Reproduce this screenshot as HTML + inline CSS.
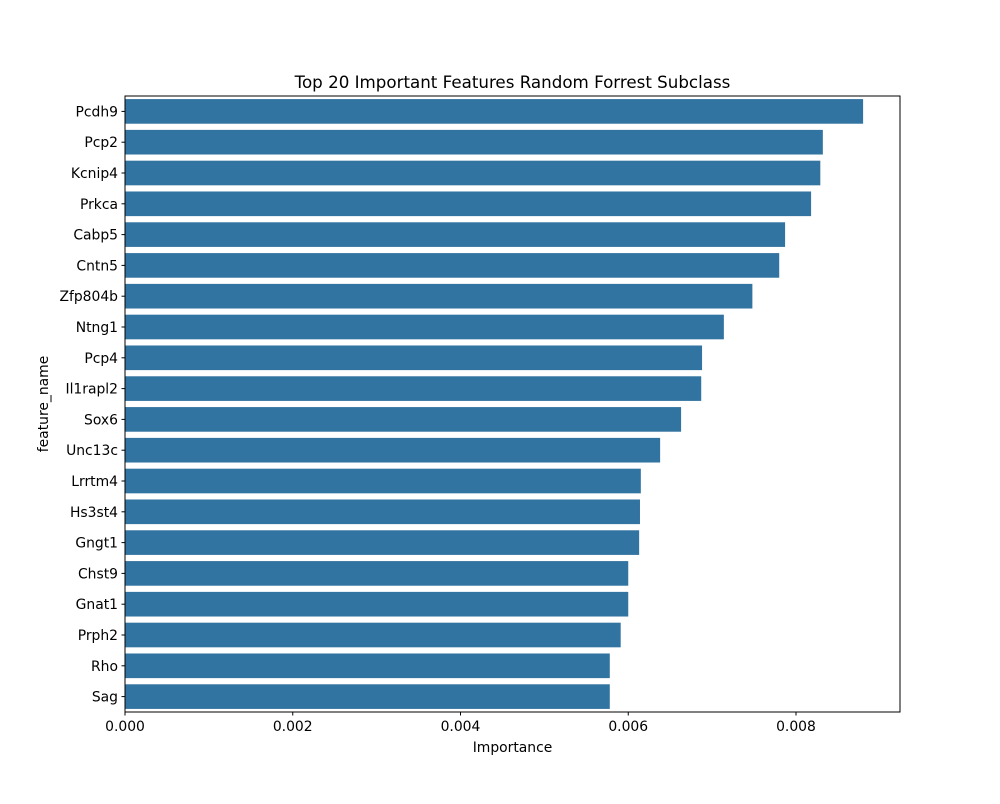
<!DOCTYPE html>
<html><head><meta charset="utf-8"><style>
body{margin:0;background:#fff;font-family:"DejaVu Sans","Liberation Sans",sans-serif;}
</style></head><body>
<svg id="chart" width="1000" height="800" viewBox="0 0 1000 800" xmlns="http://www.w3.org/2000/svg" font-family="DejaVu Sans, Liberation Sans, sans-serif">
<rect width="1000" height="800" fill="#fff"/>
<text x="512.5" y="88" text-anchor="middle" font-size="16.7">Top 20 Important Features Random Forrest Subclass</text>
<g id="bars"></g>
<g id="yticks"></g>
<g id="xticks"></g>
<rect x="125" y="96" width="775" height="616" fill="none" stroke="#000" stroke-width="1"/>
<text x="512.5" y="752" text-anchor="middle" font-size="13.9">Importance</text>
<text x="0" y="0" transform="translate(48,404) rotate(-90)" text-anchor="middle" font-size="13.9">feature_name</text>
</svg>
<script>
const categories=["Pcdh9","Pcp2","Kcnip4","Prkca","Cabp5","Cntn5","Zfp804b","Ntng1","Pcp4","Il1rapl2","Sox6","Unc13c","Lrrtm4","Hs3st4","Gngt1","Chst9","Gnat1","Prph2","Rho","Sag"];
const values=[0.00880,0.00832,0.00829,0.00818,0.00787,0.00780,0.00748,0.00714,0.00688,0.00687,0.00663,0.00638,0.00615,0.00614,0.00613,0.00600,0.00600,0.00591,0.00578,0.00578];
const xTicks=[0,0.002,0.004,0.006,0.008];
const xTickLabels=["0.000","0.002","0.004","0.006","0.008"];
const NS="http://www.w3.org/2000/svg";
const L=125,R=900,T=96,B=712,xMax=0.00924;
const x=v=>L+v/xMax*(R-L);
const band=(B-T)/categories.length;
const y=i=>T+band*i;
const bars=document.getElementById('bars'),yt=document.getElementById('yticks'),xt=document.getElementById('xticks');
categories.forEach((c,i)=>{
  const r=document.createElementNS(NS,'rect');
  r.setAttribute('x',L);r.setAttribute('y',y(i)+band*0.1);
  r.setAttribute('width',x(values[i])-L);r.setAttribute('height',band*0.8);
  r.setAttribute('fill','#3274a1');
  
  
  bars.appendChild(r);
  const cy=y(i)+band/2;
  const tl=document.createElementNS(NS,'line');
  tl.setAttribute('x1',L-3.5);tl.setAttribute('x2',L);tl.setAttribute('y1',cy);tl.setAttribute('y2',cy);tl.setAttribute('stroke','#000');
  
  
  yt.appendChild(tl);
  const t=document.createElementNS(NS,'text');
  t.setAttribute('x',L-7);t.setAttribute('y',cy+5);t.setAttribute('text-anchor','end');t.setAttribute('font-size','13.9');
  t.textContent=c;
  
  
  yt.appendChild(t);
});
xTicks.forEach((v,i)=>{
  const px=x(v);
  const tl=document.createElementNS(NS,'line');
  tl.setAttribute('x1',px);tl.setAttribute('x2',px);tl.setAttribute('y1',B);tl.setAttribute('y2',B+3.5);tl.setAttribute('stroke','#000');
  
  
  xt.appendChild(tl);
  const t=document.createElementNS(NS,'text');
  t.setAttribute('x',px);t.setAttribute('y',B+19);t.setAttribute('text-anchor','middle');t.setAttribute('font-size','13.9');
  t.textContent=xTickLabels[i];
  
  
  xt.appendChild(t);
});
</script>
</body></html>
